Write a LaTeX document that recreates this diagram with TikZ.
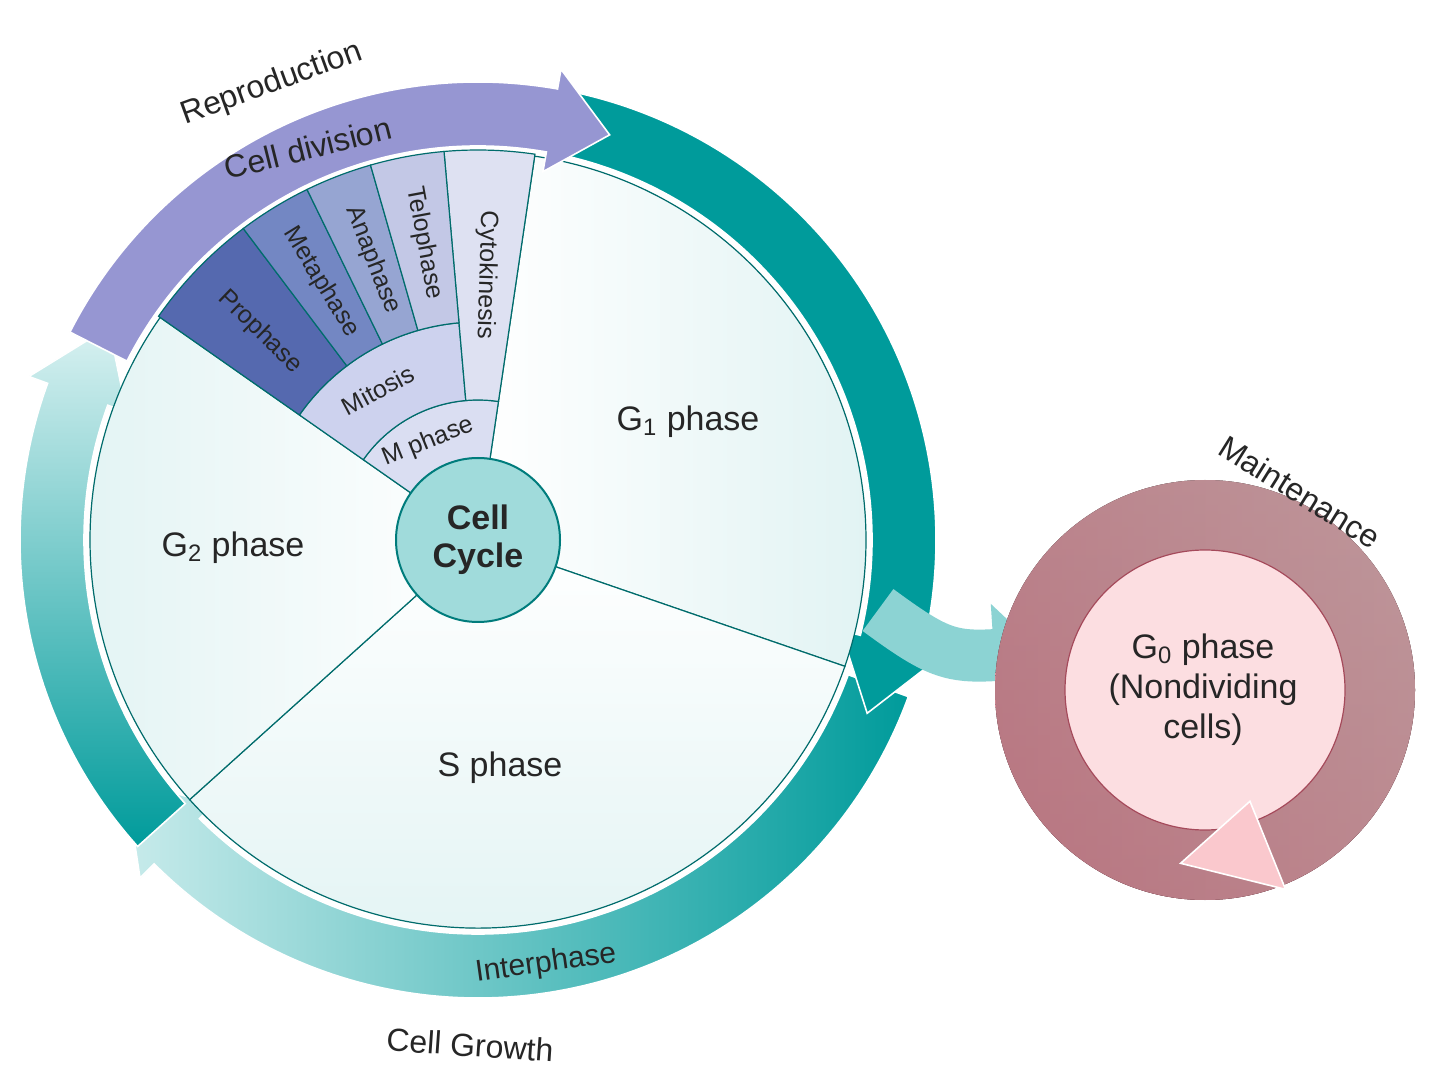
\documentclass[tikz,border=0pt]{standalone}
\usepackage{fontspec}
\setmainfont{Liberation Sans}
\usetikzlibrary{arrows.meta}
\definecolor{teal1}{RGB}{0,155,155}
\definecolor{teall}{RGB}{200,235,235}
\definecolor{segc}{RGB}{225,243,243}
\definecolor{purp}{RGB}{150,150,210}
\definecolor{proc}{RGB}{85,105,175}
\definecolor{metc}{RGB}{115,135,195}
\definecolor{anac}{RGB}{150,165,210}
\definecolor{telc}{RGB}{195,200,230}
\definecolor{cytc}{RGB}{222,225,242}
\definecolor{mitc}{RGB}{205,210,238}
\definecolor{mphc}{RGB}{218,222,242}
\definecolor{pinkd}{RGB}{236,105,130}
\definecolor{pinkm}{RGB}{245,165,178}
\definecolor{pinkl}{RGB}{250,200,205}
\definecolor{pinkc}{RGB}{252,222,225}
\newcommand\sector[5]{\filldraw[#5] (#1:#3) arc[start angle=#1,end angle=#2,radius=#3] -- (#2:#4) arc[start angle=#2,end angle=#1,radius=#4] -- cycle;}
\newcommand\arcarrow[4]{\filldraw[#4] (#1:458) arc[start angle=#1,end angle=#2,radius=458] -- (#2:478) -- (#3:426) -- (#2:374) -- (#2:394) arc[start angle=#2,end angle=#1,radius=394] -- cycle;}
\tikzset{lbl/.style={font=\fontsize{17}{20}\selectfont,text=black!85},
 sml/.style={font=\fontsize{12.5}{15}\selectfont,text=black!85},
 seg/.style={draw=teal1!70!black,line width=0.6pt}}
\begin{document}
\begin{tikzpicture}[x=0.5pt,y=0.5pt]
\useasboundingbox[fill=white] (0,0) rectangle (1440,1072);
\begin{scope}[shift={(478,532)}]
% ring arrows
\arcarrow{-20}{-135}{-146}{left color=teall,right color=teal1,draw=white,line width=0.8pt}
\arcarrow{222}{160}{150}{bottom color=teal1,top color=teall!70,draw=white,line width=0.8pt}
\arcarrow{80}{-14}{-24}{teal1,draw=white,line width=0.8pt}
% disk sectors
\filldraw[seg,left color=white,right color=segc] (0,0) -- (81.6:388) arc[start angle=81.6,end angle=-19,radius=388] -- cycle;
\filldraw[seg,top color=white,bottom color=segc] (0,0) -- (-19:388) arc[start angle=-19,end angle=-138,radius=388] -- cycle;
\filldraw[seg,left color=segc,right color=white] (0,0) -- (222:388) arc[start angle=222,end angle=145,radius=388] -- cycle;
\sector{145}{81.6}{82}{140}{mphc,seg}
\sector{145}{95}{140}{218}{mitc,seg}
\sector{95}{81.6}{140}{390}{cytc,seg}
\sector{145}{127}{218}{390}{proc,seg}
\sector{127}{116}{218}{390}{metc,seg}
\sector{116}{106}{218}{390}{anac,seg}
\sector{106}{95}{218}{390}{telc,seg}
% purple arrow
\arcarrow{153}{80}{72}{purp,draw=white,line width=0.8pt}
% centre
\node[circle,minimum size=82pt,fill=teall!80!teal1,draw=teal1!80!black,line width=1pt,
 font=\fontsize{17}{19}\selectfont\bfseries,align=center,text=black!85] (cc) at (0,0) {Cell\\Cycle};
% labels
\node[lbl] (g1) at (210,118) {G\textsubscript{1} phase};
\node[lbl] (g2) at (-245,-8) {G\textsubscript{2} phase};
\node[lbl] (s) at (22,-228) {S phase};
\node[sml,rotate=-44] (pro) at (-218,208) {Prophase};
\node[sml,rotate=-58.5] (met) at (-157,258) {Metaphase};
\node[sml,rotate=-69] (ana) at (-105,280) {Anaphase};
\node[sml,rotate=-79.5] (tel) at (-54,297) {Telophase};
\node[sml,rotate=-91.7] (cyt) at (8,265) {Cytokinesis};
\node[sml,rotate=28] (mit) at (-100,150) {Mitosis};
\node[sml,rotate=22] (mph) at (-50,98) {M phase};
\node[lbl,rotate=14,font=\fontsize{16}{18}\selectfont] (cd) at (-170,392) {Cell division};
\node[sml,rotate=8,font=\fontsize{15}{17}\selectfont] (ip) at (68,-424) {Interphase};
\end{scope}
% G0 branch
\draw[-{Triangle[width=50pt,length=24pt]},line width=26pt,teall!70!teal1] (878,462) .. controls (935,420) and (950,414) .. (1042,420);
% G0 circle
\begin{scope}[shift={(1205,382)}]
\fill[top color=pinkl,bottom color=pinkd] (0,0) circle[radius=210];
\fill[right color=pinkl,left color=pinkm,opacity=0.6] (0,0) circle[radius=210];
\filldraw[fill=pinkc,draw=pinkd!70!black,line width=0.6pt] (0,0) circle[radius=140];
\filldraw[pinkl,draw=white,line width=0.8pt] (-68:120) -- (-68:215) -- (-98:175) -- cycle;
\end{scope}
\node[lbl,align=center] (g0) at (1203,382) {G\textsubscript{0} phase\\(Nondividing\\cells)};
% outer labels
\node[lbl,rotate=20,font=\fontsize{16}{18}\selectfont] (rep) at (272,988) {Reproduction};
\node[lbl,rotate=-4,font=\fontsize{16}{18}\selectfont] (cg) at (470,27) {Cell Growth};
\node[lbl,rotate=-32,font=\fontsize{16}{18}\selectfont] (mt) at (1300,580) {Maintenance};
\end{tikzpicture}
\end{document}
